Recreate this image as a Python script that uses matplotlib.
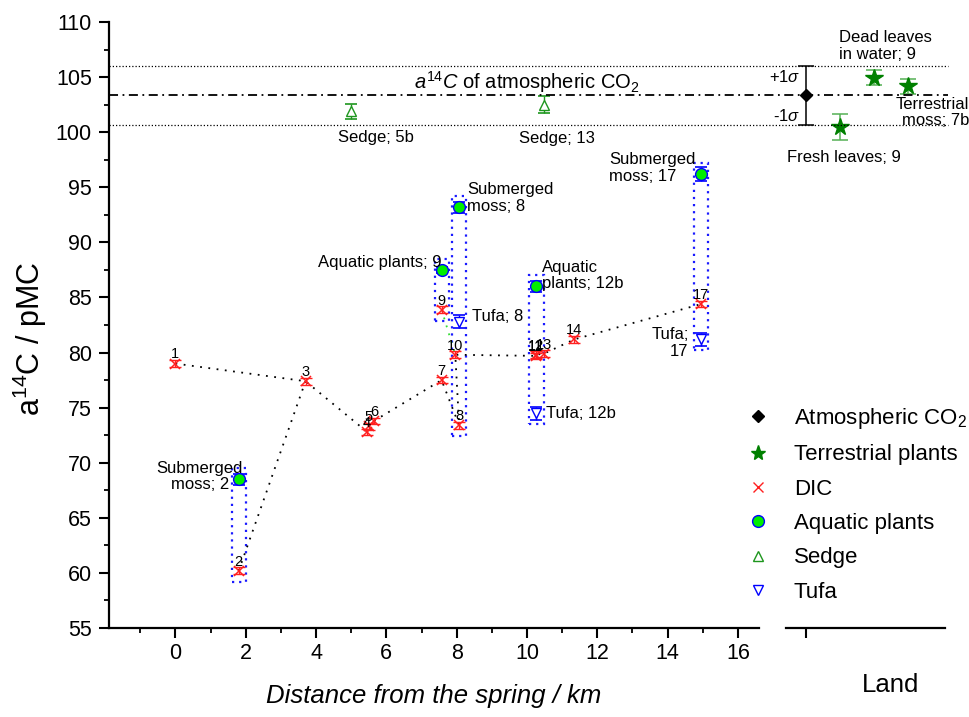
import matplotlib
matplotlib.use("Agg")
import matplotlib.pyplot as plt
import matplotlib.transforms as mtransforms
from matplotlib.lines import Line2D
from matplotlib.patches import Rectangle
from matplotlib.ticker import MultipleLocator

plt.rcParams['font.family'] = ['Liberation Sans', 'DejaVu Sans']
plt.rcParams['mathtext.fontset'] = 'custom'
plt.rcParams['mathtext.rm'] = 'Liberation Sans'
plt.rcParams['mathtext.it'] = 'Liberation Sans:italic'
plt.rcParams['mathtext.bf'] = 'Liberation Sans:bold'

# ---- DIC of river water, by sample number ----
dic_ids = ['1', '2', '3', '4', '5', '6', '7', '8', '9', '10', '11', '12', '13', '14', '17']
dic_km = [0.0, 1.8, 3.7, 5.45, 5.5, 5.65, 7.57, 8.07, 7.57, 7.96, 10.25, 10.25, 10.48, 11.35, 14.95]
dic_pmc = [79.0, 60.2, 77.4, 72.8, 73.3, 73.8, 77.5, 73.4, 83.9, 79.8, 79.7, 79.8, 79.9, 81.2, 84.4]
dic_err = [0.3, 0.3, 0.3, 0.3, 0.3, 0.3, 0.3, 0.3, 0.3, 0.3, 0.3, 0.3, 0.3, 0.3, 0.3]
dic_site = ['1', '2', '3', '4', '5', '6', '7', '8', '9', '10', '11', '12b', '13', '14', '17']

# sampling order along the stream and the side branches
main_course = ['1', '3', '4', '5', '6', '7', '8', '10', '11', '12', '13', '14', '17']
branch_2 = ['2', '3']
branch_9 = ['9', '10']

# ---- aquatic plants ----
aq_labels = ['Submerged\nmoss; 2', 'Aquatic plants; 9', 'Submerged\nmoss; 8',
             'Aquatic\nplants; 12b', 'Submerged\nmoss; 17']
aq_km = [1.8, 7.57, 8.07, 10.27, 14.95]
aq_pmc = [68.5, 87.5, 93.2, 86.0, 96.2]
aq_err = [0.5, 0.3, 0.5, 0.5, 0.6]
aq_site = ['2', '9', '8', '12b', '17']

# ---- tufa ----
tufa_labels = ['Tufa; 8', 'Tufa; 12b', 'Tufa;\n17']
tufa_km = [8.07, 10.27, 14.95]
tufa_pmc = [82.8, 74.5, 81.2]
tufa_err = [0.6, 0.6, 0.6]
tufa_site = ['8', '12b', '17']

# ---- sedge ----
sedge_labels = ['Sedge; 5b', 'Sedge; 13']
sedge_km = [5.0, 10.48]
sedge_pmc = [101.9, 102.5]
sedge_err = [0.7, 0.8]

# ---- land: atmosphere and terrestrial plants ----
atm_pmc = 103.35
atm_sigma = 2.7
terr_labels = ['Fresh leaves; 9', 'Dead leaves\nin water; 9', 'Terrestrial\nmoss; 7b']
terr_pmc = [100.45, 104.95, 104.15]
terr_err = [1.2, 0.65, 0.7]

boxed_sites = ['2', '9', '8', '12b', '17']

# ---------------------------------------------------------------
fig = plt.figure(figsize=(9.70, 7.17), dpi=100)
ax = fig.add_axes([0.112, 0.1241, 0.6705, 0.8452])
axl = fig.add_axes([0.8103, 0.1241, 0.164, 0.8452])

YMIN, YMAX = 55, 110
for a in (ax, axl):
    a.set_ylim(YMIN, YMAX)
    a.spines['top'].set_visible(False)
    a.spines['right'].set_visible(False)
    a.spines['bottom'].set_linewidth(1.6)
    a.spines['left'].set_linewidth(1.6)
    a.patch.set_alpha(0)

ax.set_xlim(-1.9, 16.6)
ax.xaxis.set_major_locator(MultipleLocator(2))
ax.xaxis.set_minor_locator(MultipleLocator(2, offset=1))
ax.yaxis.set_major_locator(MultipleLocator(5))
ax.yaxis.set_minor_locator(MultipleLocator(2.5))
ax.tick_params(which='major', direction='out', length=7, width=1.5, labelsize=15.5, pad=3.5)
ax.tick_params(which='minor', direction='out', length=3.5, width=1.3)
ax.tick_params(axis='y', which='major', pad=5)

axl.spines['left'].set_visible(False)
axl.set_xlim(-0.59, 4.09)
axl.set_yticks([])
axl.set_xticks([0])
axl.set_xticklabels([])
axl.tick_params(axis='x', direction='out', length=7, width=1.5)

ax.set_xlabel('Distance from the spring / km', fontsize=18.5, style='italic', labelpad=15)
ax.set_ylabel(r'a$^{\mathit{14}}$C / pMC', fontsize=22)
ax.yaxis.set_label_coords(-0.092, 0.478)
fig.text(891 / 970, 1 - 685 / 717, 'Land', fontsize=18.5, ha='center', va='center')

# ---- reference lines for the atmospheric value, across both panels ----
trans = mtransforms.blended_transform_factory(fig.transFigure, ax.transData)
x0, x1 = 0.112, 0.977
for yv in (atm_pmc + atm_sigma, atm_pmc - atm_sigma):
    fig.add_artist(Line2D([x0, x1], [yv, yv], transform=trans, color='black',
                          lw=0.9, linestyle=(0, (1, 1.6))))
fig.add_artist(Line2D([x0, x1], [atm_pmc, atm_pmc], transform=trans, color='black',
                      lw=1.3, linestyle=(0, (5, 2.5, 1, 2.5))))
ax.annotate(r'$a^{14}C$ of atmospheric CO$_2$', xy=(10.0, atm_pmc), xytext=(0, 5),
            textcoords='offset points', ha='center', va='baseline', fontsize=14.5)

# ---- dotted path of DIC along the stream ----
pos = {i: (x, y) for i, x, y in zip(dic_ids, dic_km, dic_pmc)}


def path(ids):
    return [pos[i][0] for i in ids], [pos[i][1] for i in ids]


dot = (0, (1, 3.6))
ax.plot(*path(main_course), color='black', lw=1.3, linestyle=dot, zorder=2)
ax.plot(*path(branch_2), color='black', lw=1.3, linestyle=dot, zorder=2)
ax.plot(*path(branch_9), color='#33dd33', lw=1.3, linestyle=dot, zorder=2)

# ---- dotted frames around samples taken at the same site ----
for site in boxed_sites:
    xs, ys = [], []
    for s, x, y in zip(dic_site, dic_km, dic_pmc):
        if s == site:
            xs.append(x); ys.append(y)
    for s, x, y in zip(aq_site, aq_km, aq_pmc):
        if s == site:
            xs.append(x); ys.append(y)
    for s, x, y in zip(tufa_site, tufa_km, tufa_pmc):
        if s == site:
            xs.append(x); ys.append(y)
    left, right = min(xs) - 0.2, max(xs) + 0.2
    bottom, top = min(ys) - 1.0, max(ys) + 1.0
    ax.add_patch(Rectangle((left, bottom), right - left, top - bottom, fill=False,
                           edgecolor='#1a1aff', lw=1.6, linestyle=(0, (1, 2.2)), zorder=1))

# ---- data marks ----
red = '#ff2020'
ax.errorbar(dic_km, dic_pmc, yerr=dic_err, fmt='none', ecolor=red, elinewidth=1,
            capsize=4, capthick=1, zorder=3)
ax.plot(dic_km, dic_pmc, ls='none', marker='x', color=red, markersize=7, mew=1.1, zorder=4)
for i, x, y in zip(dic_ids, dic_km, dic_pmc):
    ax.annotate(i, xy=(x, y), xytext=(0, 1.5), textcoords='offset points',
                ha='center', va='bottom', fontsize=10.5, zorder=5)

ax.errorbar(aq_km, aq_pmc, yerr=aq_err, fmt='none', ecolor='#0000ff', elinewidth=1,
            capsize=4.5, capthick=1.2, zorder=3)
ax.plot(aq_km, aq_pmc, ls='none', marker='o', markersize=8.5, markerfacecolor='#00ee00',
        markeredgecolor='#0000ff', mew=1.0, zorder=4)

ax.errorbar(tufa_km, tufa_pmc, yerr=tufa_err, fmt='none', ecolor='#0000ff', elinewidth=1,
            capsize=4.5, capthick=1.2, zorder=3)
ax.plot(tufa_km, tufa_pmc, ls='none', marker='v', markersize=7, markerfacecolor='white',
        markeredgecolor='#0000ff', mew=1.0, zorder=4)

sedge_green = '#1e961e'
ax.errorbar(sedge_km, sedge_pmc, yerr=sedge_err, fmt='none', ecolor=sedge_green,
            elinewidth=1, capsize=4.5, capthick=1.2, zorder=3)
ax.plot(sedge_km, sedge_pmc, ls='none', marker='^', markersize=7, markerfacecolor='white',
        markeredgecolor=sedge_green, mew=1.0, zorder=4)

# sample names (offsets in points from each mark)
lab_fs = 12
lab_ls = 1.12
aq_text = [((-28, 2), 'center', 'center'), ((0, 5), 'right', 'left'),
           ((6, 6.5), 'left', 'left'), ((4, 8), 'left', 'left'), ((-4, 4.5), 'right', 'left')]
for lab, x, y, (off, ha, ma) in zip(aq_labels, aq_km, aq_pmc, aq_text):
    ax.annotate(lab, xy=(x, y), xytext=off, textcoords='offset points', ha=ha, va='center',
                multialignment=ma, fontsize=lab_fs, linespacing=lab_ls, zorder=6)
tufa_text = [((9.5, 3.5), 'left', 'left'), ((6.5, 0), 'left', 'left'), ((-9, -2.7), 'right', 'right')]
for lab, x, y, (off, ha, ma) in zip(tufa_labels, tufa_km, tufa_pmc, tufa_text):
    ax.annotate(lab, xy=(x, y), xytext=off, textcoords='offset points', ha=ha, va='center',
                multialignment=ma, fontsize=lab_fs, linespacing=lab_ls, zorder=6)
sedge_text = [(18, -19), (9.5, -24.5)]
for lab, x, y, off in zip(sedge_labels, sedge_km, sedge_pmc, sedge_text):
    ax.annotate(lab, xy=(x, y), xytext=off, textcoords='offset points', ha='center',
                va='center', fontsize=lab_fs, zorder=6)

# ---- land panel ----
atm_x = 0
terr_x = list(range(1, len(terr_pmc) + 1))
axl.errorbar([atm_x], [atm_pmc], yerr=[atm_sigma], fmt='none', ecolor='black', elinewidth=1.1,
             capsize=6, capthick=1.1, zorder=3, clip_on=False)
axl.plot([atm_x], [atm_pmc], ls='none', marker='D', color='black', markersize=6, zorder=4)
axl.annotate(r'+1$\sigma$', xy=(atm_x, atm_pmc), xytext=(-4, 13), textcoords='offset points',
             ha='right', va='center', fontsize=12)
axl.annotate(r'-1$\sigma$', xy=(atm_x, atm_pmc), xytext=(-4, -15), textcoords='offset points',
             ha='right', va='center', fontsize=12)

axl.errorbar(terr_x, terr_pmc, yerr=terr_err, fmt='none', ecolor='#55b055', elinewidth=1.1,
             capsize=6, capthick=1.1, zorder=3)
axl.plot(terr_x, terr_pmc, ls='none', marker='*', color='#008000', markersize=13, zorder=4)
terr_text = [((3, -21.5), 'center', 'center', 'center'),
             ((8, 11.5), 'center', 'bottom', 'left'),
             ((44, -7.5), 'right', 'top', 'right')]
for lab, x, y, (off, ha, va, ma) in zip(terr_labels, terr_x, terr_pmc, terr_text):
    axl.annotate(lab, xy=(x, y), xytext=off, textcoords='offset points', ha=ha, va=va,
                 multialignment=ma, fontsize=lab_fs, linespacing=lab_ls, zorder=6)

# ---- legend ----
handles = [
    Line2D([], [], ls='none', marker='D', color='black', markersize=6),
    Line2D([], [], ls='none', marker='*', color='#008000', markersize=11),
    Line2D([], [], ls='none', marker='x', color=red, markersize=6.5, mew=1.0),
    Line2D([], [], ls='none', marker='o', markersize=8.5, markerfacecolor='#00ee00',
           markeredgecolor='#0000ff'),
    Line2D([], [], ls='none', marker='^', markersize=6.5, markerfacecolor='white',
           markeredgecolor=sedge_green),
    Line2D([], [], ls='none', marker='v', markersize=6.5, markerfacecolor='white',
           markeredgecolor='#0000ff'),
]
names = ['Atmospheric CO$_2$', 'Terrestrial plants', 'DIC', 'Aquatic plants', 'Sedge', 'Tufa']
fig.legend(handles, names, loc='upper left', bbox_to_anchor=(747 / 970, 1 - 406 / 717),
           bbox_transform=fig.transFigure, frameon=False, fontsize=16, handlelength=1.0,
           handletextpad=1.1, labelspacing=0.6, borderpad=0, borderaxespad=0)

fig.savefig('out.png', dpi=100)
